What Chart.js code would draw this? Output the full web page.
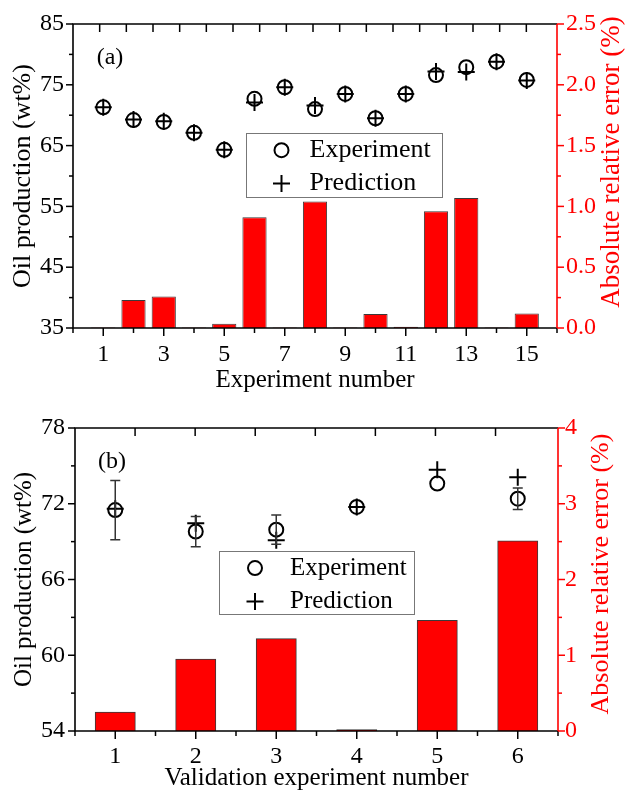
<!DOCTYPE html>
<html><head><meta charset="utf-8">
<script src="https://cdn.jsdelivr.net/npm/chart.js@4.4.1/dist/chart.umd.min.js"></script>
<style>
html,body{margin:0;padding:0;background:#fff;}
.wrap{position:relative;width:628px;height:397px;}
canvas{display:block;}
</style></head><body>
<div class="wrap"><canvas id="ca" width="628" height="397"></canvas></div>
<div class="wrap"><canvas id="cb" width="628" height="397"></canvas></div>
<script>
// ---------- Panel (a) data ----------
const expNumA  = [1,2,3,4,5,6,7,8,9,10,11,12,13,14,15];
const oilExpA  = [71.3,69.2,68.9,67.1,64.3,72.7,74.6,71.0,73.5,69.5,73.5,76.6,77.9,78.8,75.8];
const oilPredA = [71.3,69.3,69.0,67.1,64.3,72.1,74.6,71.6,73.5,69.5,73.5,77.2,77.1,78.8,75.7];
const errA     = [0.004,0.23,0.26,0.004,0.035,0.91,0.004,1.04,0.004,0.115,0.01,0.96,1.07,0.004,0.12];
const sdA      = [0,0,0,0,0,0,0,0,0,0,0,0,0,0,0];

// ---------- Panel (b) data ----------
const expNumB  = [1,2,3,4,5,6];
const oilExpB  = [71.5,69.8,69.95,71.75,73.6,72.4];
const oilPredB = [71.6,70.45,69.1,71.75,74.7,74.1];
const sdB      = [2.35,1.2,1.15,0,0,0.85];
const errB     = [0.25,0.95,1.22,0.02,1.46,2.51];

const FONT = "'Liberation Serif','Times New Roman',Times,serif";
const RED = '#ff0000';

function isMult(v, origin, step){ const r=(v-origin)/step; return Math.abs(r-Math.round(r))<1e-6; }

function drawTicks(chart, scaleId, side, minor, major, origin, lenMajor, lenMinor, color, maxVal){
  const sc = chart.scales[scaleId], ca = chart.chartArea, ctx = chart.ctx;
  ctx.save(); ctx.strokeStyle=color; ctx.lineWidth=1.5;
  const top = (maxVal!==undefined)? maxVal : sc.max;
  for(let k=Math.ceil((sc.min-1e-9)/minor); k*minor<=top+1e-9; k++){
    const v=k*minor; const len = isMult(v,origin,major)?lenMajor:lenMinor;
    const p = sc.getPixelForValue(v);
    if(side==='top' && v<=sc.min) continue;
    ctx.beginPath();
    if(side==='bottom'){ctx.moveTo(p,ca.bottom);ctx.lineTo(p,ca.bottom+len);}
    if(side==='top'){ctx.moveTo(p,ca.top);ctx.lineTo(p,ca.top+len);}
    if(side==='left'){ctx.moveTo(ca.left,p);ctx.lineTo(ca.left-len,p);}
    if(side==='right'){ctx.moveTo(ca.right,p);ctx.lineTo(ca.right+len,p);}
    ctx.stroke();
  }
  ctx.restore();
}

function build(id, p){
  const tickFont = {family:FONT, size:p.tickSize};
  const decor = {
    id:'decor'+id,
    afterDatasetsDraw(chart){
      const ctx=chart.ctx, sx=chart.scales.x, sy=chart.scales.y;
      ctx.save(); ctx.strokeStyle='#333'; ctx.lineWidth=1.5;
      p.nums.forEach((n,i)=>{
        if(!p.sd[i]) return;
        const x=sx.getPixelForValue(n), y1=sy.getPixelForValue(p.exp[i]+p.sd[i]), y2=sy.getPixelForValue(p.exp[i]-p.sd[i]);
        ctx.beginPath(); ctx.moveTo(x,y1); ctx.lineTo(x,y2);
        ctx.moveTo(x-5,y1); ctx.lineTo(x+5,y1); ctx.moveTo(x-5,y2); ctx.lineTo(x+5,y2); ctx.stroke();
      });
      ctx.restore();
    },
    afterDraw(chart){
      const ctx=chart.ctx, ca=chart.chartArea;
      ctx.save(); ctx.lineWidth=1.6; ctx.strokeStyle='#000';
      ctx.beginPath(); ctx.moveTo(ca.right,ca.top); ctx.lineTo(ca.left,ca.top); ctx.lineTo(ca.left,ca.bottom); ctx.lineTo(ca.right,ca.bottom); ctx.stroke();
      ctx.strokeStyle=RED; ctx.beginPath(); ctx.moveTo(ca.right,ca.top); ctx.lineTo(ca.right,ca.bottom); ctx.stroke();
      ctx.restore();
      drawTicks(chart,'x','bottom',p.xMinor,p.xMajor,p.xOrigin,8,5,'#000');
      drawTicks(chart,'xt','top',1,1,0,8,8,'#000',Math.floor(p.xtMax-0.3));
      drawTicks(chart,'y','left',p.yMinor,p.yMajor,p.yMin,7,4,'#000');
      drawTicks(chart,'y2','right',p.y2Minor,p.y2Major,0,7,4,RED);
      ctx.save(); ctx.fillStyle=RED; ctx.font=p.rtSize+'px '+FONT; ctx.textAlign='center'; ctx.textBaseline='middle';
      ctx.translate(p.rtX,p.rtY); ctx.rotate(-Math.PI/2); ctx.fillText('Absolute relative error (%)',0,0); ctx.restore();
      ctx.save(); ctx.fillStyle='#000'; ctx.font='24px '+FONT; ctx.textAlign='center'; ctx.textBaseline='middle';
      ctx.fillText(p.tag,p.tagX,p.tagY); ctx.restore();
      const L=p.legend; ctx.save();
      ctx.strokeStyle='#777'; ctx.lineWidth=1; ctx.strokeRect(L.x,L.y,L.w,L.h);
      ctx.strokeStyle='#000'; ctx.lineWidth=2;
      const mx=L.x+L.mdx, r1=L.y+L.r1, r2=L.y+L.r2;
      ctx.beginPath(); ctx.arc(mx,r1,7,0,Math.PI*2); ctx.stroke();
      ctx.beginPath(); ctx.moveTo(mx-8.5,r2); ctx.lineTo(mx+8.5,r2); ctx.moveTo(mx,r2-8.5); ctx.lineTo(mx,r2+8.5); ctx.stroke();
      ctx.fillStyle='#000'; ctx.font=L.size+'px '+FONT; ctx.textAlign='left'; ctx.textBaseline='middle';
      ctx.fillText(chart.data.datasets[1].label,L.x+L.tdx,r1);
      ctx.fillText(chart.data.datasets[2].label,L.x+L.tdx,r2);
      ctx.restore();
    }
  };
  return new Chart(document.getElementById(id),{
    type:'bar',
    data:{datasets:[
      {type:'bar',label:'Absolute relative error (%)',data:p.nums.map((n,i)=>({x:n,y:p.err[i]})),xAxisID:'x',yAxisID:'y2',
       backgroundColor:RED,borderColor:'#3a3a3a',borderWidth:1,barPercentage:p.barPct,categoryPercentage:1,order:3},
      {type:'line',label:'Experiment',data:p.nums.map((n,i)=>({x:n,y:p.exp[i]})),xAxisID:'x',yAxisID:'y',showLine:false,
       pointStyle:'circle',pointRadius:7,pointBorderWidth:2,pointBorderColor:'#000',pointBackgroundColor:'rgba(0,0,0,0)',order:2},
      {type:'line',label:'Prediction',data:p.nums.map((n,i)=>({x:n,y:p.pred[i]})),xAxisID:'x',yAxisID:'y',showLine:false,
       pointStyle:'cross',pointRadius:8.5,pointBorderWidth:2,pointBorderColor:'#000',order:1}
    ]},
    options:{
      responsive:false,animation:false,devicePixelRatio:1,events:[],
      layout:{padding:{top:p.padTop,left:0,right:0,bottom:0}},
      plugins:{legend:{display:false},tooltip:{enabled:false}},
      scales:{
        x:{type:'linear',position:'bottom',min:p.xMin,max:p.xMax,offset:false,
           grid:{display:false,drawTicks:false},border:{display:false},
           ticks:{stepSize:p.xMinor,autoSkip:false,maxRotation:0,font:tickFont,color:'#000',padding:p.xPad,
                  callback:v=>p.xLabels.includes(v)?String(v):''},
           title:{display:true,text:p.xTitle,font:{family:FONT,size:25},color:'#000',padding:{top:0,bottom:p.xtPad}},
           afterFit:s=>{s.height=p.xH;}},
        xt:{type:'linear',position:'top',min:0,max:p.xtMax,offset:false,
           grid:{display:false,drawTicks:false},border:{display:false},
           ticks:{display:false,stepSize:1},
           afterFit:s=>{s.height=0;}},
        y:{type:'linear',position:'left',min:p.yMin,max:p.yMax,
           grid:{display:false,drawTicks:false},border:{display:false},
           ticks:{stepSize:p.yMinor,autoSkip:false,font:tickFont,color:'#000',padding:p.yPad,
                  callback:v=>isMult(v,p.yMin,p.yMajor)?String(v):''},
           title:{display:true,text:'Oil production (wt%)',font:{family:FONT,size:p.ltSize},color:'#000',padding:{top:p.ltPad,bottom:0}},
           afterFit:s=>{s.width=p.leftW;}},
        y2:{type:'linear',position:'right',min:0,max:p.y2Max,
           grid:{display:false,drawTicks:false},border:{display:false},
           ticks:{stepSize:p.y2Minor,autoSkip:false,font:tickFont,color:RED,padding:p.y2Pad,
                  callback:v=>isMult(v,0,p.y2Major)?v.toFixed(p.y2Dec):''},
           afterFit:s=>{s.width=p.rightW;}}
      }
    },
    plugins:[decor]
  });
}

build('ca',{
  nums:expNumA,exp:oilExpA,pred:oilPredA,err:errA,sd:sdA,barPct:0.8,
  padTop:24,xH:69,leftW:73,rightW:71,
  xMin:0,xMax:16,xMinor:1,xMajor:2,xOrigin:1,xLabels:[1,3,5,7,9,11,13,15],xPad:12,xTitle:'Experiment number',xtPad:2,
  xtMax:18.15,
  yMin:35,yMax:85,yMinor:5,yMajor:10,yPad:9,ltSize:26,ltPad:8,
  y2Max:2.5,y2Minor:0.25,y2Major:0.5,y2Dec:1,y2Pad:9,
  tickSize:24,rtSize:27,rtX:612,rtY:162,
  tag:'(a)',tagX:110,tagY:58,
  legend:{x:246.5,y:133.5,w:196,h:64,mdx:35,tdx:63,r1:16.7,r2:50,size:26}
});
// (b): x ticks every 0.5 set the bar slot width (half the category spacing), so barPercentage 1 -> half-width bars
build('cb',{
  nums:expNumB,exp:oilExpB,pred:oilPredB,err:errB,sd:sdB,barPct:1.0,
  padTop:31,xH:63,leftW:75,rightW:70,
  xMin:0.5,xMax:6.5,xMinor:0.5,xMajor:1,xOrigin:0,xLabels:[1,2,3,4,5,6],xPad:11,xTitle:'Validation experiment number',xtPad:1,
  xtMax:8.04,
  yMin:54,yMax:78,yMinor:3,yMajor:6,yPad:10,ltSize:25,ltPad:9,
  y2Max:4,y2Minor:0.5,y2Major:1,y2Dec:0,y2Pad:7,
  tickSize:24,rtSize:26,rtX:601,rtY:177,
  tag:'(b)',tagX:112,tagY:65,
  legend:{x:219.5,y:154.5,w:195,h:63,mdx:35.5,tdx:70.5,r1:16.6,r2:50,size:25}
});
</script>
</body></html>
